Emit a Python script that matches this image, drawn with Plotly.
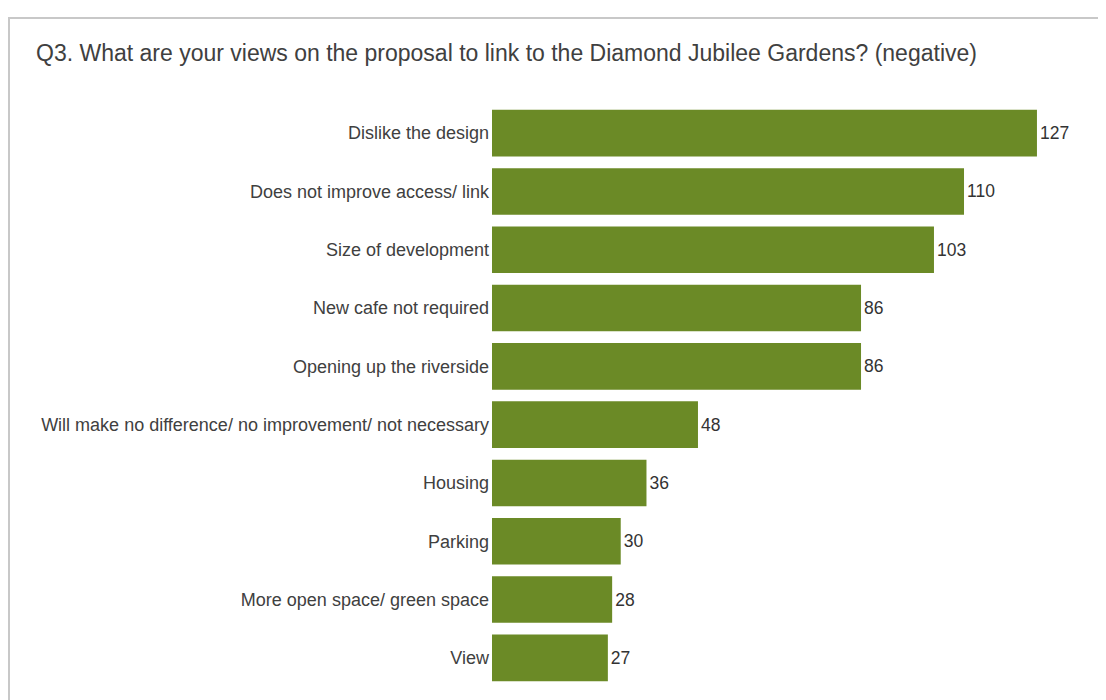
import plotly.graph_objects as go

categories = [
    "Dislike the design",
    "Does not improve access/ link",
    "Size of development",
    "New cafe not required",
    "Opening up the riverside",
    "Will make no difference/ no improvement/ not necessary",
    "Housing",
    "Parking",
    "More open space/ green space",
    "View",
]
values = [127, 110, 103, 86, 86, 48, 36, 30, 28, 27]
title_text = "Q3. What are your views on the proposal to link to the Diamond Jubilee Gardens? (negative)"

W, H = 1106, 700
# page is drawn with an 8px body offset
ml, mr, mt, mb = 484, 21, 96, 21
pw = W - ml - mr
ph = H - mt - mb

FONT = "Liberation Sans, Arial, sans-serif"

fig = go.Figure(go.Bar(
    x=values, y=categories, orientation="h",
    marker=dict(color="#6b8a26", line=dict(width=0)),
    text=[str(v) for v in values], textposition="outside",
    textfont=dict(size=17.5, color="#333333", family=FONT),
    constraintext="none",
    cliponaxis=False,
))

fig.update_layout(
    width=W, height=H,
    margin=dict(l=ml, r=mr, t=mt, b=mb, pad=0),
    paper_bgcolor="white", plot_bgcolor="white",
    font=dict(family=FONT, color="#404040", size=18),
    bargap=0.2,
    showlegend=False,
    title=dict(text=title_text, x=28 / W, xanchor="left", xref="container",
               y=1 - 45 / H, yanchor="middle",
               font=dict(size=23, color="#404040", family=FONT)),
    xaxis=dict(range=[0, pw / 4.291], visible=False, fixedrange=True),
    yaxis=dict(autorange="reversed", showgrid=False, zeroline=False, showline=False,
               ticks="", ticklabelstandoff=2,
               tickfont=dict(size=18, color="#404040")),
)

# outer frame
x0 = (1 - ml) / pw
y_top = (H - mb - 10) / ph
fig.add_shape(type="rect", xref="paper", yref="paper",
              x0=x0, x1=1.2, y0=-0.2, y1=y_top,
              line=dict(color="#c8c8c8", width=2), fillcolor="rgba(0,0,0,0)", layer="below")

fig.write_html("out.html")
